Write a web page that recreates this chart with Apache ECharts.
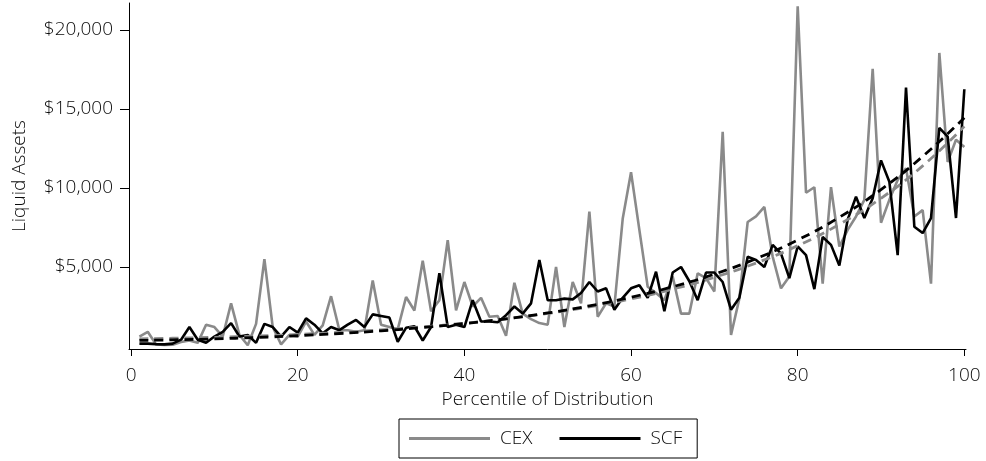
<!DOCTYPE html>
<html>
<head>
<meta charset="utf-8">
<title>Liquid Assets by Percentile</title>
<script src="https://cdn.jsdelivr.net/npm/echarts@6/dist/echarts.min.js"></script>
<style>
    html, body {margin: 0; padding: 0; background: #fff;}
    #chart {width: 986px; height: 461px;}
</style>
</head>
<body>
<div id="chart"></div>
<script>
// percentiles 1..100
var percentiles = [];
for (var i = 1; i <= 100; i++) { percentiles.push(i); }

// CEX liquid assets by percentile
var cexValues = [
    600, 900, 100, 60, 80, 250, 350, 200, 1350, 1200,
    600, 2700, 700, 50, 1400, 5500, 1200, 100, 700, 600,
    1550, 700, 1300, 3150, 1000, 1000, 900, 1000, 4150, 1350,
    1200, 1050, 3100, 2250, 5400, 2200, 2900, 6700, 2250, 4050,
    2500, 3050, 1850, 1900, 650, 4000, 2050, 1700, 1450, 1350,
    5000, 1200, 4050, 2700, 8500, 1850, 2700, 2500, 8050, 11000,
    7350, 3750, 3350, 2900, 4400, 2050, 2050, 4600, 4300, 3450,
    13550, 700, 3000, 7850, 8200, 8800, 5650, 3650, 4400, 21500,
    9700, 10050, 3950, 10050, 6300, 7350, 8200, 9250, 17550, 7800,
    9250, 10500, 11250, 8200, 8600, 3950, 18550, 11650, 13050, 12600
];

// SCF liquid assets by percentile
var scfValues = [
    150, 150, 120, 100, 150, 400, 1200, 400, 200, 600,
    900, 1450, 600, 700, 200, 1400, 1200, 600, 1200, 850,
    1750, 1350, 800, 1200, 1000, 1350, 1650, 1200, 2000, 1900,
    1800, 270, 1150, 1250, 350, 1200, 4600, 1200, 1350, 1200,
    2900, 1550, 1550, 1500, 1950, 2500, 2050, 2700, 5450, 2900,
    2900, 3000, 2950, 3350, 4050, 3450, 3650, 2300, 3050, 3650,
    3850, 3050, 4700, 2200, 4650, 5000, 4100, 2900, 4650, 4650,
    4050, 2300, 3050, 5650, 5450, 5000, 6400, 5850, 4300, 6300,
    5750, 3600, 6900, 6400, 5100, 8000, 9450, 8100, 9350, 11750,
    10400, 5750, 16350, 7550, 7150, 8100, 13800, 13250, 8100, 16250
];

// fitted trend lines (dashed), read at every 5th percentile
var fitPercentiles = [1, 5, 10, 15, 20, 25, 30, 35, 40, 45, 50, 55, 60, 65, 70, 75, 80, 85, 90, 95, 100];
var cexFit = [450, 490, 550, 630, 730, 860, 1020, 1210, 1440, 1720, 2060, 2480, 2980, 3600, 4350, 5250, 6350, 7700, 9350, 11400, 13900];
var scfFit = [350, 390, 450, 540, 650, 790, 960, 1170, 1420, 1720, 2090, 2540, 3090, 3750, 4550, 5530, 6710, 8150, 9900, 12000, 14450];

var xTicks = [0, 20, 40, 60, 80, 100];
var yTicks = [5000, 10000, 15000, 20000];

var fontName = 'Open Sans';
var fontW = 300;
var fontSz = 19;
var textColor = '#0a0a0a';

function pairs(xs, ys) {
    var out = [];
    for (var i = 0; i < xs.length; i++) {
        out.push([xs[i], ys[i]]);
    }
    return out;
}

function money(v) {
    return '$' + v.toString().replace(/\B(?=(\d{3})+(?!\d))/g, ',');
}

var chart = echarts.init(document.getElementById('chart'));
var option = {
    animation: false,
    backgroundColor: '#fff',
    textStyle: {fontFamily: fontName, fontWeight: fontW},
    grid: {left: 129, right: 20, top: 3, bottom: 112},
    legend: {
        data: ['CEX', 'SCF'],
        left: 399,
        top: 419,
        icon: 'rect',
        itemWidth: 81,
        itemHeight: 3,
        itemGap: 27,
        padding: [10, 15, 10, 10],
        borderColor: '#000',
        borderWidth: 1,
        textStyle: {fontFamily: fontName, fontWeight: fontW, fontSize: fontSz, color: textColor, padding: [0, 0, 0, 5]}
    },
    xAxis: {
        type: 'value',
        min: -0.25,
        max: 100.2,
        name: 'Percentile of Distribution',
        nameLocation: 'middle',
        nameGap: 28,
        nameTextStyle: {fontFamily: fontName, fontWeight: fontW, fontSize: fontSz, color: textColor},
        splitLine: {show: false},
        axisLine: {show: true, onZero: false, lineStyle: {color: '#000', width: 1}},
        axisTick: {show: true, length: 7, customValues: xTicks, lineStyle: {color: '#000'}},
        axisLabel: {customValues: xTicks, margin: 17, fontFamily: fontName, fontWeight: fontW, fontSize: fontSz, color: textColor}
    },
    yAxis: {
        type: 'value',
        min: -190,
        max: 21710,
        name: 'Liquid Assets',
        nameLocation: 'middle',
        nameGap: 100,
        nameTextStyle: {fontFamily: fontName, fontWeight: fontW, fontSize: fontSz, color: textColor},
        splitLine: {show: false},
        axisLine: {show: true, onZero: false, lineStyle: {color: '#000', width: 1}},
        axisTick: {show: true, length: 9, customValues: yTicks, lineStyle: {color: '#000'}},
        axisLabel: {
            customValues: yTicks,
            margin: 16,
            fontFamily: fontName,
            fontWeight: fontW,
            fontSize: fontSz,
            color: textColor,
            formatter: function (v) { return money(v); }
        }
    },
    series: [{
        name: 'CEX',
        type: 'line',
        data: pairs(percentiles, cexValues),
        showSymbol: false,
        color: '#8a8a8a',
        lineStyle: {width: 2.6, color: '#8a8a8a'},
        z: 2
    }, {
        name: 'SCF',
        type: 'line',
        data: pairs(percentiles, scfValues),
        showSymbol: false,
        color: '#000',
        lineStyle: {width: 2.6, color: '#000'},
        z: 3
    }, {
        name: 'CEX fit',
        type: 'line',
        data: pairs(fitPercentiles, cexFit),
        showSymbol: false,
        smooth: true,
        lineStyle: {width: 2.8, color: '#8a8a8a', type: [9, 6]},
        z: 4
    }, {
        name: 'SCF fit',
        type: 'line',
        data: pairs(fitPercentiles, scfFit),
        showSymbol: false,
        smooth: true,
        lineStyle: {width: 2.8, color: '#000', type: [9, 6]},
        z: 5
    }]
};
chart.setOption(option);
</script>
</body>
</html>
